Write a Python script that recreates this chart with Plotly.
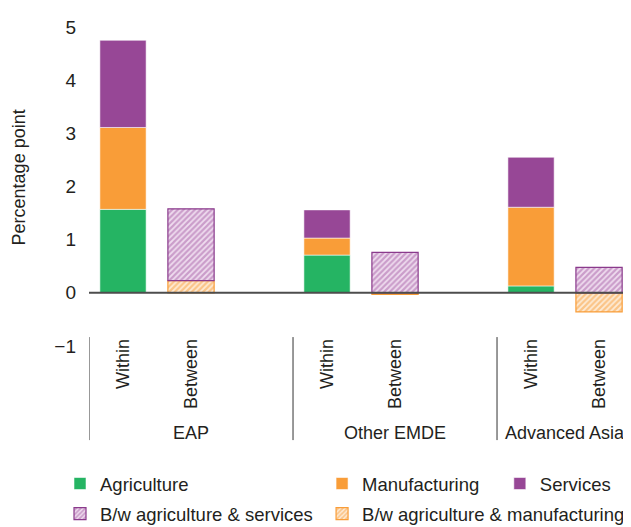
import plotly.graph_objects as go

# --- data (percentage points) ---
slots = ["EAP Within", "EAP Between", "gap1",
         "Other EMDE Within", "Other EMDE Between", "gap2",
         "Advanced Asia Within", "Advanced Asia Between"]
slot_labels = ["Within", "Between", "", "Within", "Between", "", "Within", "Between"]
groups = ["EAP", "Other EMDE", "Advanced Asia"]

agriculture = [1.57, None, None, 0.71, None, None, 0.13, None]
manufacturing = [1.54, None, None, 0.32, None, None, 1.48, None]
services = [1.64, None, None, 0.53, None, None, 0.94, None]
bw_agri_manuf = [None, 0.23, None, None, -0.03, None, None, -0.36]
bw_agri_serv = [None, 1.35, None, None, 0.76, None, None, 0.48]

GREEN = "#25B463"
ORANGE = "#F99D38"
PURPLE = "#974796"
FONT = "Liberation Sans"
TXT = "#231F20"

fig = go.Figure()

solid_line = dict(color="rgba(255,255,255,0.55)", width=1)
fig.add_trace(go.Bar(x=slots, y=agriculture, name="Agriculture",
                     marker=dict(color=GREEN, line=solid_line),
                     legend="legend", legendgroup="a", legendrank=1))
fig.add_trace(go.Bar(x=slots, y=manufacturing, name="Manufacturing",
                     marker=dict(color=ORANGE, line=solid_line),
                     legend="legend2", legendgroup="m", legendrank=1))
fig.add_trace(go.Bar(x=slots, y=services, name="Services",
                     marker=dict(color=PURPLE, line=solid_line),
                     legend="legend3", legendgroup="s", legendrank=1))
# hatched "between" effects (orange first so it stacks at the bottom)
fig.add_trace(go.Bar(x=slots, y=bw_agri_manuf, name="B/w agriculture & manufacturing",
                     marker=dict(color="#FCE3C6", line=dict(color=ORANGE, width=1.2),
                                 pattern=dict(shape="/", fgcolor=ORANGE, bgcolor="#FDEBD6",
                                              size=4, solidity=0.55)),
                     legend="legend2", legendgroup="bm", legendrank=2))
fig.add_trace(go.Bar(x=slots, y=bw_agri_serv, name="B/w agriculture & services",
                     marker=dict(color="#EBD3EB", line=dict(color="#8A3A8C", width=1.2),
                                 pattern=dict(shape="/", fgcolor="#A65DA5", bgcolor="#EFDDEF",
                                              size=4, solidity=0.55)),
                     legend="legend", legendgroup="bs", legendrank=2))

# zero line drawn over the bars
fig.add_shape(type="line", xref="paper", yref="y", x0=0, x1=1, y0=0, y1=0,
              line=dict(color="#4D4D4D", width=2), layer="above")

# category labels below the bars
for i, lab in enumerate(slot_labels):
    if lab:
        fig.add_annotation(x=i, y=0.028, xref="x", yref="paper", text=lab,
                           textangle=-90, showarrow=False, xanchor="center", yanchor="top",
                           font=dict(family=FONT, size=18, color=TXT))

# group separators and names
for k, g in enumerate(groups):
    start = 3 * k - 0.5
    fig.add_shape(type="line", xref="x", yref="paper", x0=start, x1=start,
                  y0=0.028, y1=-0.295, line=dict(color="#333333", width=1))
    centre = min(start + 1.5, 6.5)
    fig.add_annotation(x=centre, y=-0.273, xref="x", yref="paper", text=g,
                       showarrow=False, xanchor="center", yanchor="middle",
                       font=dict(family=FONT, size=18, color=TXT))

fig.add_annotation(x=-0.13, y=0.527, xref="paper", yref="paper", text="Percentage point",
                   textangle=-90, showarrow=False, xanchor="center", yanchor="middle",
                   font=dict(family=FONT, size=18, color=TXT))

leg = dict(orientation="v", yanchor="top", xanchor="left", y=-0.373,
           bgcolor="rgba(0,0,0,0)", tracegroupgap=3,
           font=dict(family=FONT, size=18.5, color=TXT))

# the page body adds an 8px offset, so the figure is 8px smaller on each side
fig.update_layout(
    width=623, height=519,
    margin=dict(l=81, r=0, t=19, b=181, autoexpand=False),
    paper_bgcolor="white", plot_bgcolor="white",
    barmode="relative", bargap=0.32,
    font=dict(family=FONT, size=18, color=TXT),
    legend=dict(leg, x=-0.0535),
    legend2=dict(leg, x=0.43),
    legend3=dict(leg, x=0.758),
    xaxis=dict(type="category", categoryorder="array", categoryarray=slots,
               range=[-0.5, 7.47], showticklabels=False, showgrid=False,
               zeroline=False, showline=False, ticks=""),
    yaxis=dict(range=[-1, 5], tickvals=[-1, 0, 1, 2, 3, 4, 5], showgrid=False,
               zeroline=False, showline=False, ticks="", ticklabelstandoff=12,
               tickfont=dict(family=FONT, size=19, color=TXT)),
)

fig.write_html("out.html")
